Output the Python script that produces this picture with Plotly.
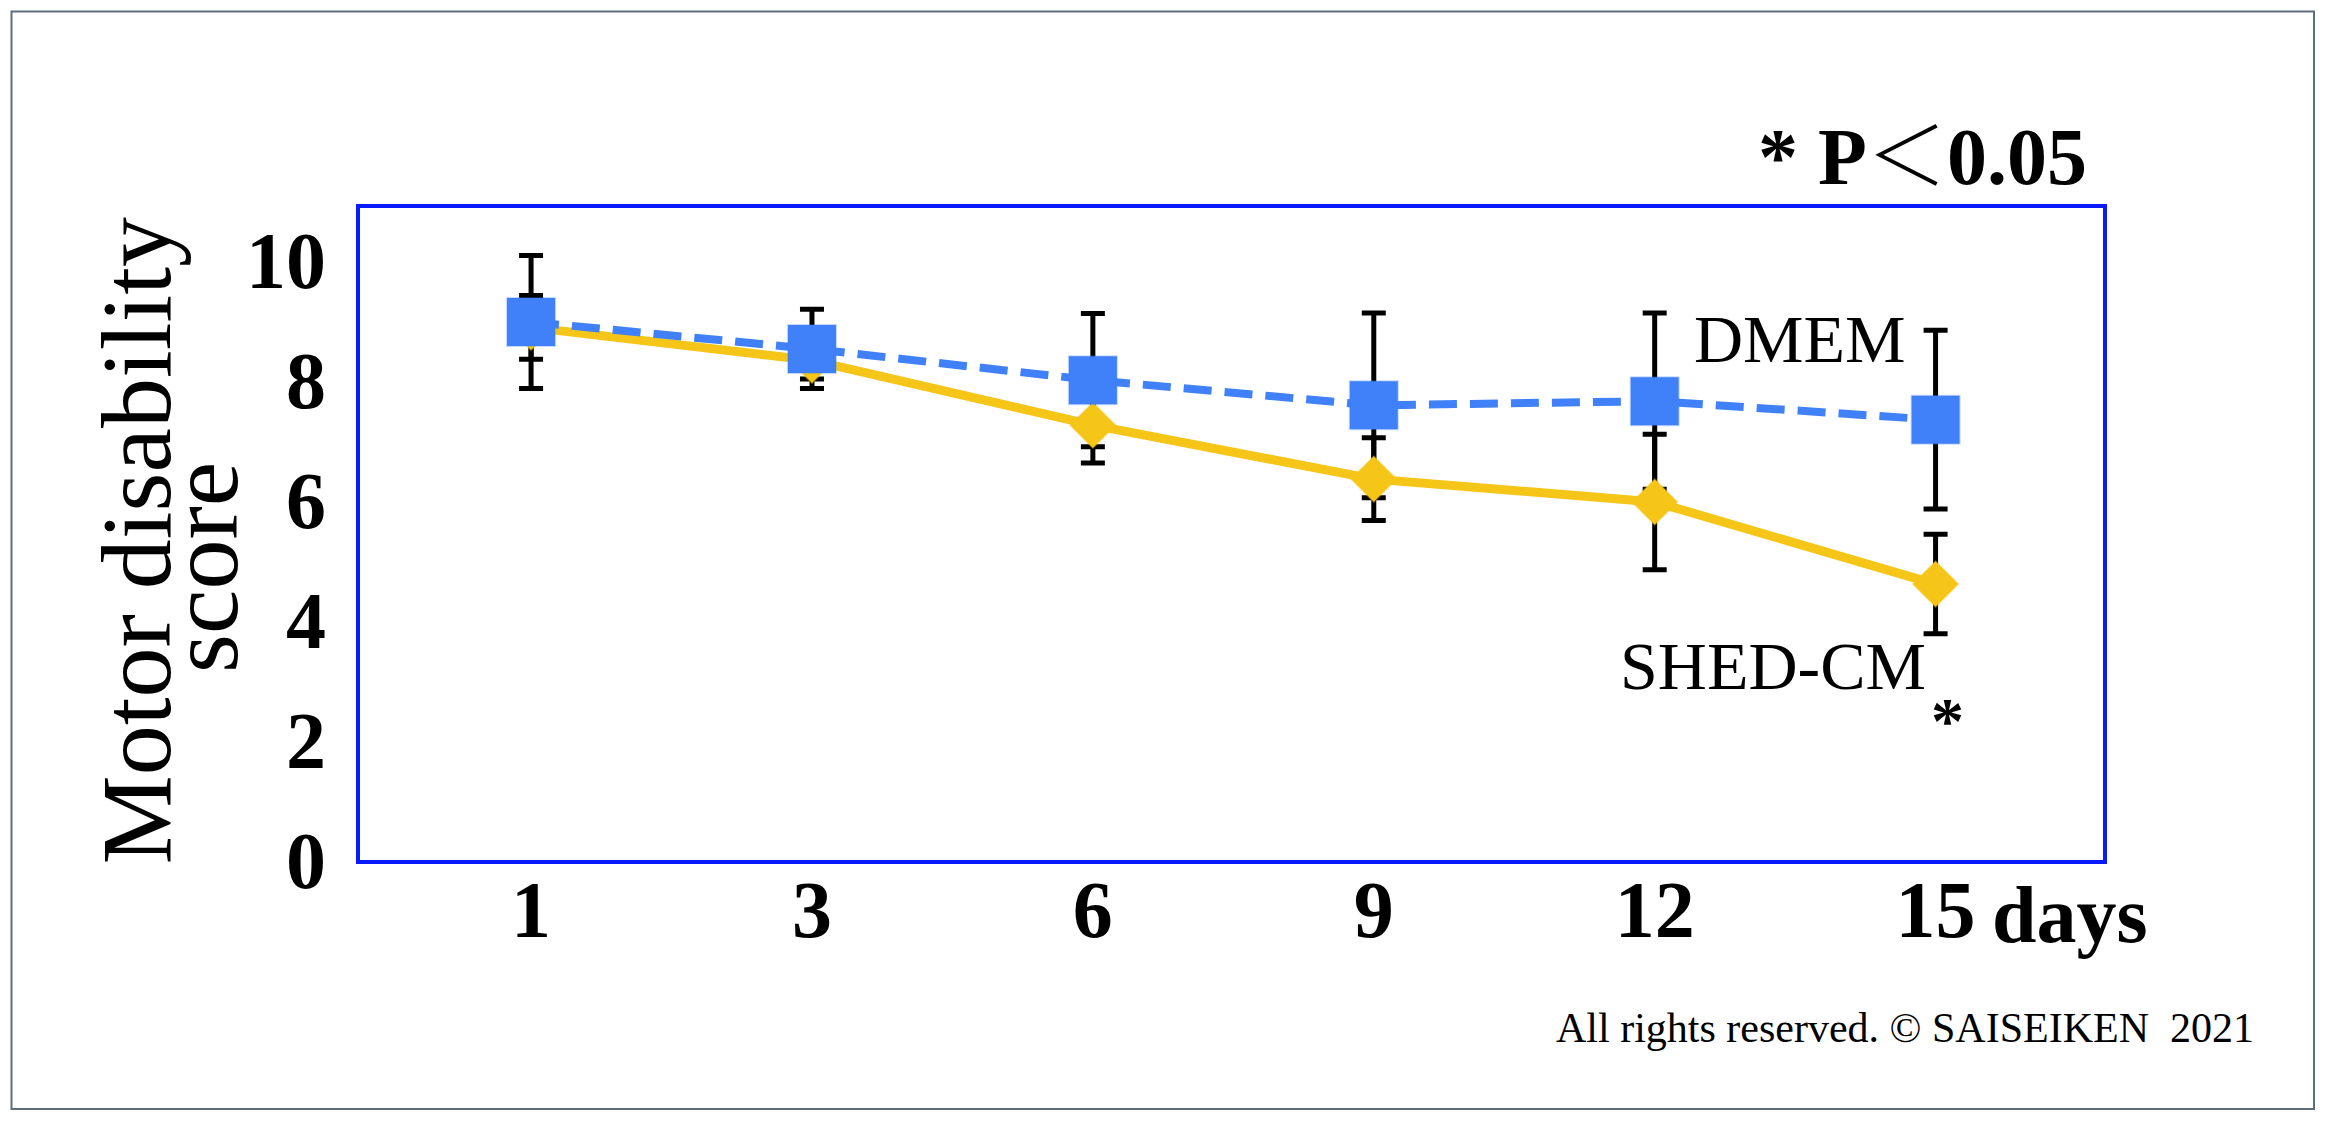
import plotly.graph_objects as go

# Motor disability score over time, mean +/- SD
days = ["1", "3", "6", "9", "12", "15"]
dmem_mean = [8.97, 8.52, 8.0, 7.58, 7.65, 7.34]
dmem_sd = [1.11, 0.66, 1.11, 1.54, 1.47, 1.49]
shed_mean = [8.88, 8.33, 7.25, 6.35, 5.97, 4.6]
shed_sd = [0.53, 0.31, 0.63, 0.69, 1.13, 0.83]
y_ticks = [0, 2, 4, 6, 8, 10]

BLUE = "#4080f8"
YELLOW = "#f5c518"
FONT = "Liberation Serif"

fig = go.Figure()

# error bars first so every marker/line sits on top of them
for means, sds in [(dmem_mean, dmem_sd), (shed_mean, shed_sd)]:
    fig.add_trace(go.Scatter(
        x=days, y=means, mode="markers",
        marker=dict(size=1, color="rgba(0,0,0,0)"),
        error_y=dict(type="data", array=sds, color="black", thickness=5, width=12),
        hoverinfo="skip",
    ))

fig.add_trace(go.Scatter(
    x=days, y=shed_mean, mode="lines+markers", name="SHED-CM",
    line=dict(color=YELLOW, width=9),
    marker=dict(symbol="diamond", size=35, color=YELLOW,
                line=dict(color="rgba(245,197,24,0.35)", width=2)),
))
fig.add_trace(go.Scatter(
    x=days, y=dmem_mean, mode="lines+markers", name="DMEM",
    line=dict(color=BLUE, width=8, dash="28px,13px"),
    marker=dict(symbol="square", size=48, color=BLUE,
                line=dict(color="rgba(64,128,248,0.3)", width=2)),
))

fig.update_xaxes(
    type="category", range=[-0.609, 5.596],
    showline=True, linecolor="#0a1aff", linewidth=4, mirror=True,
    showgrid=False, zeroline=False, ticks="",
    tickfont=dict(family=FONT, size=80, color="black", weight="bold"),
    ticklabelstandoff=-23,
)
fig.update_yaxes(
    range=[0, 10.87], tickvals=y_ticks,
    showline=True, linecolor="#0a1aff", linewidth=4, mirror=True,
    showgrid=False, zeroline=False, ticks="",
    tickfont=dict(family=FONT, size=80, color="black", weight="bold"),
    ticklabelstandoff=14,
)

ann = [
    dict(text="<b>* P</b><span style='font-family:Noto Sans CJK JP;font-weight:300'>＜</span><b>0.05</b>",
         x=0.992, y=1.09, xanchor="right", yanchor="middle", font=dict(size=80)),
    dict(text="<b>days</b>", x=0.935, y=-0.085, xanchor="left", yanchor="middle",
         font=dict(size=80)),
    dict(text="Motor disability", x=-0.1285, y=0.489, textangle=-90,
         xanchor="center", yanchor="middle", font=dict(size=100)),
    dict(text="score", x=-0.0895, y=0.448, textangle=-90,
         xanchor="center", yanchor="middle", font=dict(size=100)),
    dict(text="All rights reserved. © SAISEIKEN\u00a0\u00a02021", x=1.088, y=-0.257,
         xanchor="right", yanchor="middle", font=dict(size=42)),
]
for a in ann:
    a.update(xref="paper", yref="paper", showarrow=False)
    a["font"].update(family=FONT, color="black")
    fig.add_annotation(**a)

# series labels placed in data space
fig.add_annotation(text="DMEM", x=4.517, y=8.68, xref="x", yref="y", showarrow=False,
                   xanchor="center", yanchor="middle",
                   font=dict(family=FONT, size=68, color="black"))
fig.add_annotation(text="SHED-CM", x=4.421, y=3.23, xref="x", yref="y", showarrow=False,
                   xanchor="center", yanchor="middle",
                   font=dict(family=FONT, size=68, color="black"))
fig.add_annotation(text="<b>*</b>", x=5.044, y=2.32, xref="x", yref="y", showarrow=False,
                   xanchor="center", yanchor="middle",
                   font=dict(family=FONT, size=66, color="black"))

# outer frame around the whole picture
fig.add_shape(type="rect", xref="paper", yref="paper",
              x0=(11.5 - 360) / 1743, x1=(2314 - 360) / 1743,
              y0=(860 - 1109) / 652, y1=(860 - 11.5) / 652,
              line=dict(color="#5d6d7e", width=2))

# the page adds an 8px body margin, so the figure is 8px smaller and shifted
fig.update_layout(
    width=2318, height=1114,
    margin=dict(l=352, r=223, t=200, b=262),
    plot_bgcolor="white", paper_bgcolor="white",
    showlegend=False,
)

fig.write_html("out.html")
